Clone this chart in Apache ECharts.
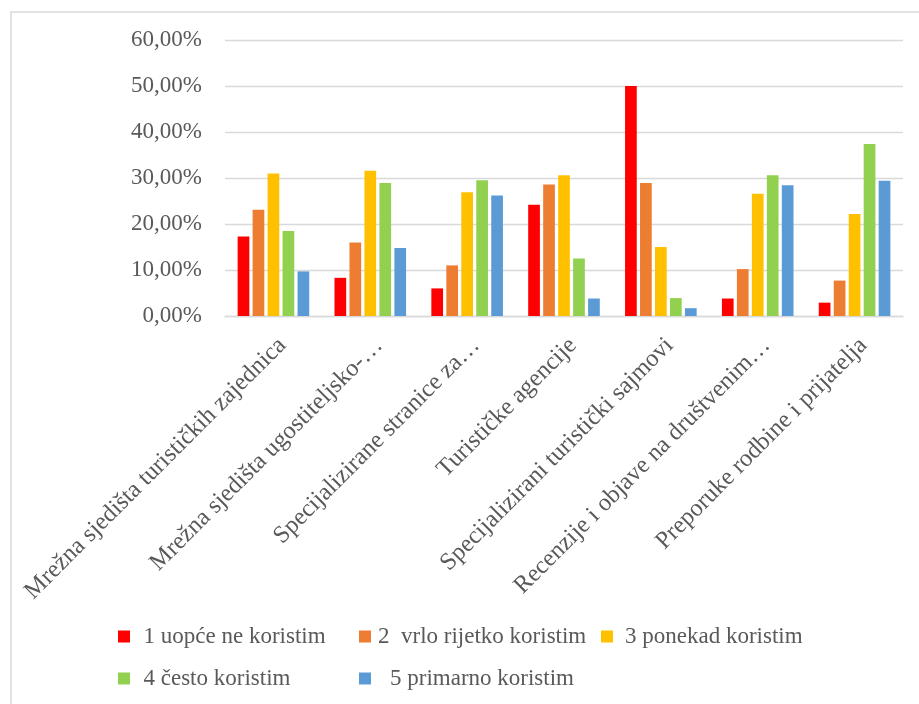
<!DOCTYPE html>
<html>
<head>
<meta charset="utf-8">
<script src="https://cdn.jsdelivr.net/npm/echarts@6/dist/echarts.min.js"></script>
<style>
html,body{margin:0;padding:0;background:#fff;}
#chart{width:919px;height:704px;}
</style>
</head>
<body>
<div id="chart"></div>
<script>
var categories = [
  'Mrežna sjedišta turističkih zajednica',
  'Mrežna sjedišta ugostiteljsko-…',
  'Specijalizirane stranice za…',
  'Turističke agencije',
  'Specijalizirani turistički sajmovi',
  'Recenzije i objave na društvenim…',
  'Preporuke rodbine i prijatelja'
];
var seriesNames = [
  '1 uopće ne koristim',
  '2  vrlo rijetko koristim',
  '3 ponekad koristim',
  '4 često koristim',
  '5 primarno koristim'
];
var s1 = [17.3, 8.3, 6.0, 24.2, 50.0, 3.8, 2.9];
var s2 = [23.1, 16.0, 11.0, 28.6, 28.9, 10.2, 7.7];
var s3 = [31.0, 31.6, 26.9, 30.6, 15.0, 26.6, 22.2];
var s4 = [18.5, 28.9, 29.5, 12.5, 3.9, 30.6, 37.4];
var s5 = [9.7, 14.8, 26.2, 3.8, 1.7, 28.4, 29.4];
var seriesValues = [s1, s2, s3, s4, s5];
var colors = ['#FF0000', '#ED7D31', '#FFC000', '#92D050', '#5B9BD5'];

var FONT = "Liberation Serif";
var TXT = '#595959';

// legend layout (icon left, text left, row centre)
var legendPos = [
  {icon: 118, text: 143.5, y: 637},
  {icon: 359, text: 378, y: 637},
  {icon: 601, text: 625, y: 637},
  {icon: 118, text: 143.5, y: 679},
  {icon: 359, text: 390, y: 679}
];

var legendGraphics = [];
legendPos.forEach(function (p, i) {
  legendGraphics.push({
    type: 'rect',
    shape: {x: p.icon, y: p.y - 6.5, width: 12, height: 12},
    style: {fill: colors[i]},
    silent: true
  });
  legendGraphics.push({
    type: 'text',
    x: p.text,
    y: p.y,
    style: {
      text: seriesNames[i],
      fill: TXT,
      font: '23px "Liberation Serif", serif',
      verticalAlign: 'middle',
      align: 'left'
    },
    silent: true
  });
});

var chart = echarts.init(document.getElementById('chart'));
var option = {
  backgroundColor: '#ffffff',
  animation: false,
  color: colors,
  textStyle: {fontFamily: FONT, color: TXT},
  graphic: [{
    type: 'rect',
    shape: {x: 11, y: 12, width: 1000, height: 1000},
    style: {fill: 'none', stroke: '#d9d9d9', lineWidth: 1.5},
    silent: true
  }].concat(legendGraphics),
  grid: {left: 225, right: 16, top: 40, bottom: 388, containLabel: false},
  xAxis: {
    type: 'category',
    data: categories,
    axisLine: {lineStyle: {color: '#d9d9d9', width: 1.3}},
    axisTick: {show: false},
    axisLabel: {
      interval: 0,
      rotate: 45,
      align: 'right',
      verticalAlign: 'top',
      margin: 17,
      fontFamily: FONT,
      fontSize: 24.5,
      color: TXT
    }
  },
  yAxis: {
    type: 'value',
    min: 0,
    max: 60,
    interval: 10,
    axisLine: {show: false},
    axisTick: {show: false},
    splitLine: {lineStyle: {color: '#d9d9d9', width: 1.3}},
    axisLabel: {
      margin: 23,
      fontFamily: FONT,
      fontSize: 23,
      color: TXT,
      formatter: function (v) { return v.toFixed(2).replace('.', ',') + '%'; }
    }
  },
  series: seriesNames.map(function (n, i) {
    return {
      name: n,
      type: 'bar',
      data: seriesValues[i],
      barWidth: 11.7,
      barGap: '28%',
      itemStyle: {color: colors[i]}
    };
  })
};
chart.setOption(option);
</script>
</body>
</html>
